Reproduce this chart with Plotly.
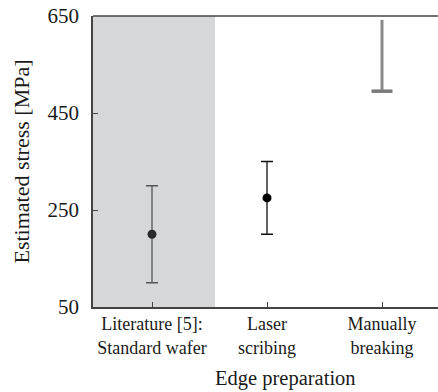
import plotly.graph_objects as go

categories = [0, 1, 2]
cat_labels = ["Literature [5]:<br>Standard wafer", "Laser<br>scribing", "Manually<br>breaking"]
lit_x = [0]
lit_y = [200]
lit_err_plus = [100]
lit_err_minus = [100]
laser_x = [1]
laser_y = [275]
laser_err_plus = [75]
laser_err_minus = [75]
manual_x = [2, 2]
manual_y = [495, 642]
y_ticks = [50, 250, 450, 650]

font = "Liberation Serif"

fig = go.Figure()

fig.add_shape(type="rect", xref="x", yref="paper", x0=-0.52, x1=0.548, y0=0, y1=1,
              fillcolor="#d6d7d9", line=dict(width=0), layer="below")

fig.add_trace(go.Scatter(
    x=lit_x, y=lit_y, mode="markers",
    marker=dict(color="#2a2a2a", size=9),
    error_y=dict(type="data", symmetric=False, array=lit_err_plus, arrayminus=lit_err_minus,
                 color="#555555", thickness=1.3, width=6),
    showlegend=False))

fig.add_trace(go.Scatter(
    x=laser_x, y=laser_y, mode="markers",
    marker=dict(color="#000000", size=9),
    error_y=dict(type="data", symmetric=False, array=laser_err_plus, arrayminus=laser_err_minus,
                 color="#111111", thickness=1.3, width=6),
    showlegend=False))

fig.add_trace(go.Scatter(
    x=manual_x, y=manual_y, mode="lines",
    line=dict(color="#8a8a8a", width=3),
    showlegend=False))
fig.add_trace(go.Scatter(
    x=manual_x[:1], y=manual_y[:1], mode="markers",
    marker=dict(symbol="line-ew", size=15, line=dict(color="#7a7a7a", width=3.5)),
    showlegend=False))

fig.add_shape(type="line", xref="paper", yref="paper", x0=0, x1=1, y0=1, y1=1,
              line=dict(color="#444444", width=1.5))

fig.add_annotation(text="Edge preparation", xref="paper", yref="paper",
                   x=0.559, y=-0.247, xanchor="center", yanchor="middle",
                   showarrow=False, font=dict(size=20.5, family=font, color="#1a1a1a"))

fig.update_layout(
    width=438, height=392,
    margin=dict(l=93, r=0, t=16, b=85),
    plot_bgcolor="white", paper_bgcolor="white",
    font=dict(family=font, color="#1a1a1a"),
    xaxis=dict(
        range=[-0.513, 2.487], tickmode="array", tickvals=categories, ticktext=cat_labels,
        showline=True, linecolor="#444444", linewidth=1.5,
        ticks="inside", ticklen=5, tickcolor="#444444",
        showgrid=False, zeroline=False, tickfont=dict(size=18),
    ),
    yaxis=dict(
        range=[50, 650], tickmode="array", tickvals=y_ticks,
        showline=True, linecolor="#444444", linewidth=1.5,
        ticks="inside", ticklen=5, tickcolor="#444444",
        showgrid=False, zeroline=False, tickfont=dict(size=21),
        ticklabelstandoff=8,
        title=dict(text="Estimated stress [MPa]", font=dict(size=22), standoff=12),
    ),
)

fig.write_html("out.html")
